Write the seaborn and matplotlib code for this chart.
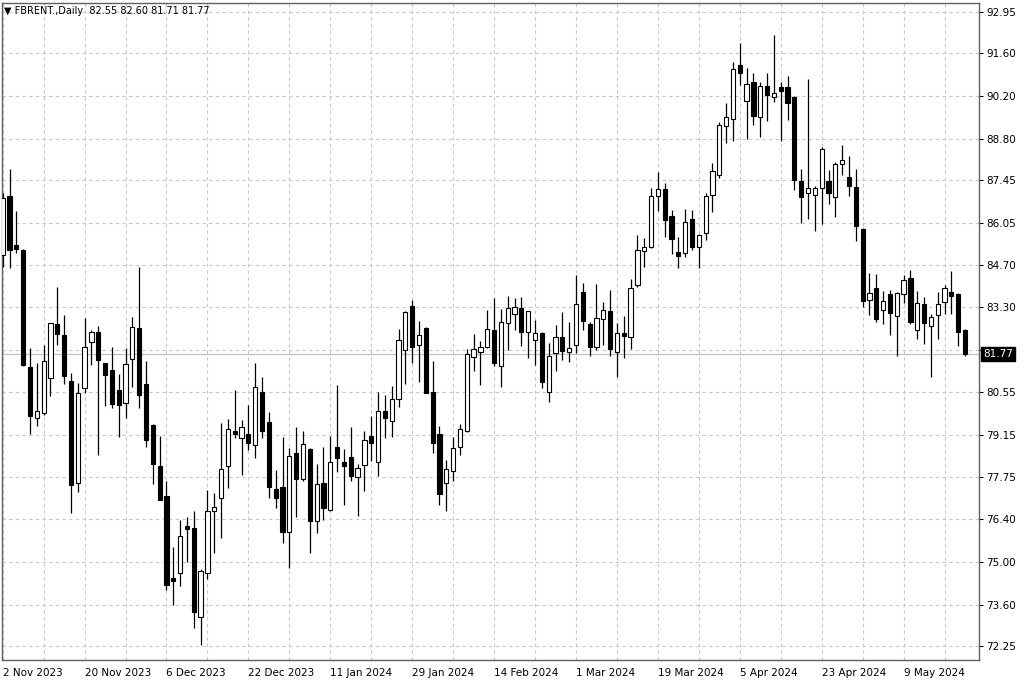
import numpy as np
import pandas as pd
import seaborn as sns
import matplotlib.pyplot as plt
from matplotlib.transforms import blended_transform_factory

sns.set_style("white")
plt.rcParams['font.family'] = ['DejaVu Sans']

# daily bars, FBRENT 2 Nov 2023 .. 22 May 2024
opens = [85.02, 86.95, 85.34, 85.18, 81.35, 79.70, 79.85, 81.01, 82.76, 82.40,
         80.91, 77.58, 80.66, 82.17, 82.49, 81.48, 81.26, 80.61, 80.17, 81.62,
         82.62, 80.80, 79.47, 78.13, 77.15, 74.46, 74.62, 76.15, 76.11, 73.21,
         74.64, 76.64, 77.07, 78.11, 79.27, 79.03, 79.16, 78.81, 80.55, 79.57,
         77.37, 77.45, 75.98, 78.56, 77.69, 78.68, 76.34, 77.58, 76.69, 78.74,
         78.24, 78.43, 77.78, 78.16, 79.11, 78.25, 79.92, 79.60, 80.32, 81.92,
         83.35, 82.08, 82.62, 80.53, 79.16, 77.58, 77.97, 78.74, 79.28, 81.68,
         81.84, 82.00, 82.55, 81.39, 82.79, 83.09, 83.28, 82.51, 82.24, 82.48,
         80.53, 81.81, 82.35, 81.84, 82.08, 83.79, 82.75, 82.00, 82.93, 83.19,
         81.86, 82.46, 82.35, 84.04, 85.15, 85.29, 86.95, 87.17, 86.29, 85.10,
         85.09, 86.18, 85.29, 85.72, 86.97, 87.63, 89.23, 89.45, 91.20, 90.05,
         90.65, 89.51, 90.54, 90.16, 90.51, 90.49, 90.16, 87.43, 87.05, 86.97,
         87.19, 87.43, 86.90, 87.98, 87.57, 87.23, 85.86, 83.55, 83.95, 83.22,
         83.74, 83.03, 83.74, 84.26, 82.57, 83.42, 82.71, 83.06, 83.47, 83.80,
         83.74, 82.55]
highs = [87.04, 87.82, 86.45, 85.20, 81.97, 81.48, 82.08, 82.80, 83.98, 83.06,
         81.15, 80.83, 82.95, 82.57, 82.70, 81.48, 82.02, 81.13, 81.97, 83.00,
         84.63, 81.56, 79.50, 79.11, 77.65, 75.49, 76.36, 76.47, 76.64, 74.75,
         77.34, 77.24, 79.52, 79.65, 80.61, 79.63, 80.12, 81.48, 81.02, 79.90,
         78.00, 79.08, 78.71, 79.41, 79.27, 78.70, 78.18, 78.74, 79.11, 80.77,
         78.67, 79.41, 78.18, 79.28, 79.74, 80.55, 80.45, 80.74, 82.59, 83.20,
         83.55, 82.86, 82.65, 81.56, 79.44, 78.32, 79.08, 79.49, 81.94, 82.44,
         82.21, 83.22, 83.60, 83.24, 83.68, 83.60, 83.63, 83.18, 82.89, 82.50,
         82.13, 82.73, 83.15, 82.84, 84.36, 84.09, 82.81, 84.07, 83.49, 83.87,
         82.79, 83.02, 84.22, 85.67, 85.56, 87.19, 87.72, 87.36, 86.49, 85.59,
         86.51, 86.49, 85.69, 87.03, 88.01, 89.36, 89.99, 91.31, 91.93, 91.11,
         90.97, 90.67, 90.95, 92.20, 90.67, 90.86, 90.20, 87.81, 90.75, 87.25,
         88.55, 87.79, 88.06, 88.61, 88.23, 87.81, 85.89, 84.44, 84.39, 83.84,
         83.87, 83.82, 84.36, 84.53, 83.84, 83.63, 83.09, 83.80, 84.04, 84.50,
         83.77, 82.60]
lows = [84.62, 84.58, 85.09, 81.39, 79.17, 79.43, 79.80, 80.42, 82.06, 80.80,
        76.58, 77.27, 80.50, 81.43, 78.49, 80.09, 80.01, 79.06, 79.69, 80.70,
        80.01, 78.76, 77.53, 77.02, 74.08, 73.59, 74.21, 75.00, 72.83, 72.28,
        74.43, 75.28, 75.77, 77.40, 79.03, 77.83, 78.63, 78.38, 79.03, 77.07,
        76.75, 75.60, 74.79, 76.47, 77.62, 75.28, 75.93, 76.36, 76.64, 77.94,
        76.85, 77.62, 76.50, 77.32, 78.29, 77.80, 79.03, 79.06, 80.06, 80.81,
        81.48, 80.85, 80.50, 78.56, 76.85, 76.64, 77.64, 78.49, 79.25, 81.21,
        80.77, 81.97, 81.39, 80.70, 81.92, 82.55, 82.05, 81.64, 81.43, 80.66,
        80.21, 81.24, 81.57, 81.51, 81.81, 82.57, 81.73, 81.92, 82.08, 81.70,
        81.04, 81.64, 81.94, 83.96, 84.62, 85.24, 86.46, 85.59, 85.05, 84.58,
        84.94, 85.18, 84.58, 85.51, 86.43, 87.53, 88.66, 88.72, 90.57, 88.79,
        89.26, 88.86, 89.40, 90.02, 88.72, 89.42, 87.14, 86.07, 86.18, 85.80,
        86.03, 86.67, 86.25, 87.63, 86.94, 85.47, 83.30, 83.06, 82.81, 82.75,
        82.40, 81.72, 83.46, 82.75, 82.26, 82.10, 81.04, 82.27, 83.09, 83.09,
        82.05, 81.71]
closes = [86.88, 85.18, 85.20, 81.43, 79.77, 79.92, 81.56, 82.79, 82.44, 81.07,
          77.51, 80.52, 82.02, 82.51, 81.59, 81.10, 80.15, 80.12, 81.46, 82.66,
          80.45, 78.98, 78.19, 77.02, 74.24, 74.37, 75.84, 76.06, 73.37, 74.70,
          76.67, 76.80, 78.03, 79.34, 79.16, 79.39, 78.89, 80.70, 79.28, 77.45,
          77.07, 75.96, 78.46, 77.69, 78.84, 76.33, 77.53, 76.75, 78.25, 78.40,
          78.13, 77.80, 78.07, 78.98, 78.87, 79.92, 79.68, 80.31, 82.24, 83.15,
          82.00, 82.40, 80.52, 78.87, 77.20, 78.03, 78.71, 79.34, 81.78, 81.94,
          82.02, 82.59, 81.48, 82.81, 83.28, 83.30, 82.51, 83.17, 82.48, 80.88,
          81.72, 82.33, 81.89, 81.99, 83.42, 82.86, 82.00, 82.95, 83.22, 81.94,
          82.46, 82.37, 83.93, 85.16, 85.29, 86.95, 87.17, 86.14, 85.54, 84.99,
          86.10, 85.29, 85.67, 86.95, 87.74, 89.26, 89.51, 91.08, 90.95, 90.59,
          89.55, 90.54, 90.24, 90.30, 90.37, 89.97, 87.47, 86.90, 87.19, 87.19,
          88.48, 87.05, 87.99, 88.10, 87.28, 85.96, 83.51, 83.77, 82.93, 83.52,
          83.11, 83.77, 84.20, 82.84, 83.44, 82.79, 82.98, 83.42, 83.93, 83.69,
          82.51, 81.77]

dates = pd.bdate_range('2023-11-02', '2024-05-22', freq='C',
                       holidays=['2023-12-25', '2024-01-01', '2024-03-29'])

date_labels = ['2 Nov 2023', '20 Nov 2023', '6 Dec 2023', '22 Dec 2023',
               '11 Jan 2024', '29 Jan 2024', '14 Feb 2024', '1 Mar 2024',
               '19 Mar 2024', '5 Apr 2024', '23 Apr 2024', '9 May 2024']
price_ticks = [92.95, 91.60, 90.20, 88.80, 87.45, 86.05, 84.70, 83.30, 81.90,
               80.55, 79.15, 77.75, 76.40, 75.00, 73.60, 72.25]

df = pd.DataFrame({'date': dates, 'open': opens, 'high': highs,
                   'low': lows, 'close': closes})
df['x'] = np.arange(len(df))
df['bull'] = df['close'] >= df['open']
df['body_lo'] = df[['open', 'close']].min(axis=1)
df['body_h'] = (df['close'] - df['open']).abs().clip(lower=0.06)

fig = plt.figure(figsize=(10.24, 6.83), dpi=100)
ax = fig.add_axes([2 / 1024, 1 - 660 / 683, 977 / 1024, 657 / 683])

# wicks
ax.vlines(df['x'], df['low'], df['high'], color='black', lw=0.9, zorder=2)
# bodies
ax.bar(df['x'], df['body_h'], bottom=df['body_lo'], width=0.62,
       color=np.where(df['bull'], 'white', 'black'), edgecolor='black',
       linewidth=0.8, zorder=3)

# last price line
last = df['close'].iloc[-1]
ax.axhline(last, color='#c0c0c0', lw=0.9, zorder=1)

ax.set_xlim(-0.1, 143.05)
ax.set_ylim(71.79, 93.24)

# axes / grid; the 81.90 label sits under the price tag, so leave it blank
ax.yaxis.tick_right()
ax.set_yticks(price_ticks)
ax.set_yticklabels(['' if abs(v - last) < 0.3 else f'{v:.2f}'
                    for v in price_ticks])
major_x = list(range(0, len(df), 12))
ax.set_xticks(major_x)
ax.set_xticklabels(date_labels, ha='left')
ax.set_xticks(list(range(6, len(df) + 2, 12)), minor=True)
ax.tick_params(axis='x', which='major', length=4, width=0.8, pad=2,
               labelsize=7.5, colors='black', direction='out')
ax.tick_params(axis='x', which='minor', length=2, width=0.6, color='#888888')
ax.tick_params(axis='y', length=3, width=0.8, pad=2, labelsize=7.5,
               colors='black', direction='out', right=True, left=False)

ax.grid(True, axis='y', which='major', color='#c8c8c8', lw=0.8,
        linestyle=(0, (3, 3)))
ax.grid(True, axis='x', which='both', color='#c8c8c8', lw=0.8,
        linestyle=(0, (3, 3)))
ax.set_axisbelow(True)
for s in ax.spines.values():
    s.set_color('#606060')
    s.set_linewidth(1.0)

# current price tag
trans = blended_transform_factory(ax.transAxes, ax.transData)
ax.text(1.004, last, f'{last:.2f}', transform=trans, ha='left', va='center',
        color='white', fontsize=7.5, zorder=10, clip_on=False,
        bbox=dict(facecolor='black', edgecolor='black', pad=1.4))

# header
fig.text(0.004, 0.984,
         f"\u25bc FBRENT.,Daily  {opens[-1]:.2f} {highs[-1]:.2f} "
         f"{lows[-1]:.2f} {closes[-1]:.2f}",
         fontsize=7, va='center', ha='left', color='black')

fig.savefig('out.png', dpi=100, facecolor='white')
